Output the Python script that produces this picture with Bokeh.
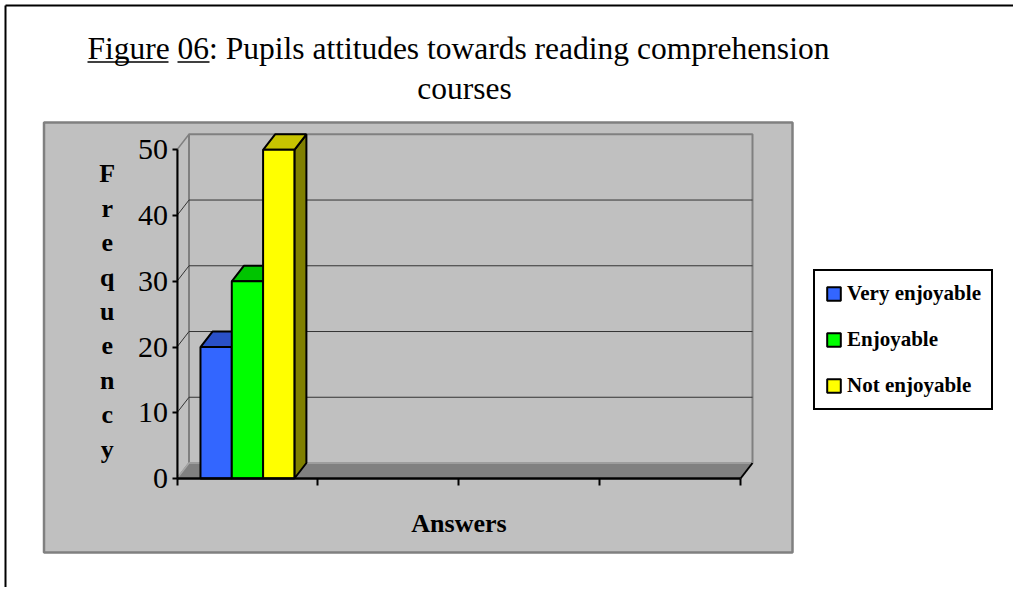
from bokeh.plotting import figure
from bokeh.models import Range1d, LinearAxis, FixedTicker, Legend, LegendItem, Grid
from bokeh.embed import file_html
from bokeh.resources import INLINE
from bokeh.core.properties import value

# ---------------- data ----------------
title_line1 = "Figure 06: Pupils attitudes towards reading comprehension"
title_line2 = "courses"
y_title = "Frequency"
x_title = "Answers"
series_names = ["Very enjoyable", "Enjoyable", "Not enjoyable"]
series_values = [20, 30, 50]
n_category_slots = 4
y_ticks = [0, 10, 20, 30, 40, 50]
y_max = 50

# ---------------- colours ----------------
front_colors = ["#3366FF", "#00FF00", "#FFFF00"]
top_colors = ["#2A50C8", "#00C400", "#C8C400"]
side_colors = ["#1F3D99", "#009900", "#808000"]
PANEL_GRAY = "#C0C0C0"
EDGE_GRAY = "#808080"
FONT = "Liberation Serif"

# ---------------- layout (picture pixels) ----------------
W, H = 1013, 587
ORIGIN_PX = (176.5, 478.0)          # value 0 at the left of the first category slot
PX_PER_CAT = (740.0 - 176.5) / n_category_slots
PX_PER_VAL = (478.0 - 149.3) / y_max
DEPTH_PX = (12.0, 15.5)
GAP_RATIO = 1.5                     # gap width = 150% of a bar
TEXT_SHIFT = 10.0                   # baseline correction for text glyphs


def X(px):
    return (px - ORIGIN_PX[0]) / PX_PER_CAT


def Y(py):
    return (ORIGIN_PX[1] - py) / PX_PER_VAL


def TY(py):
    return Y(py - TEXT_SHIFT)


DX = DEPTH_PX[0] / PX_PER_CAT
DY = DEPTH_PX[1] / PX_PER_VAL

p = figure(width=W, height=H,
           x_range=Range1d(X(0), X(W)),
           y_range=Range1d(Y(H), Y(0)),
           output_backend="svg", toolbar_location=None,
           x_axis_location=None, y_axis_location=None,
           min_border=0, outline_line_color=None,
           background_fill_color="white", border_fill_color="white")
p.center = [r for r in p.center if not isinstance(r, Grid)]

# outer page frame (top and left edges visible)
p.segment(x0=[X(5), X(5)], y0=[Y(5), Y(5)], x1=[X(W + 20), X(5)], y1=[Y(5), Y(H + 20)],
          line_color="black", line_width=2)

# gray chart area
p.quad(left=[X(43.5)], right=[X(792)], top=[Y(122)], bottom=[Y(552)],
       fill_color=PANEL_GRAY, line_color=EDGE_GRAY, line_width=2.5)

x_end = n_category_slots
# left side wall
p.patch(x=[0, 0, DX, DX], y=[0, y_max, y_max + DY, DY],
        fill_color=PANEL_GRAY, line_color=EDGE_GRAY, line_width=1.5)
# back wall
p.quad(left=[DX], right=[x_end + DX], bottom=[DY], top=[y_max + DY],
       fill_color=PANEL_GRAY, line_color=EDGE_GRAY, line_width=2)
# floor
p.patch(x=[0, DX, x_end + DX, x_end], y=[0, DY, DY, 0],
        fill_color=EDGE_GRAY, line_color="#A6A6A6", line_width=1.5)
p.segment(x0=[x_end], y0=[0], x1=[x_end + DX], y1=[DY], line_color="black", line_width=2)

# gridlines (back wall + side wall)
grid_vals = [v for v in y_ticks if 0 < v < y_max]
p.segment(x0=[DX] * len(grid_vals), y0=[v + DY for v in grid_vals],
          x1=[x_end + DX] * len(grid_vals), y1=[v + DY for v in grid_vals],
          line_color="#333333", line_width=1)
p.segment(x0=[0] * len(grid_vals), y0=grid_vals,
          x1=[DX] * len(grid_vals), y1=[v + DY for v in grid_vals],
          line_color="#333333", line_width=1)

# 3-D bars (first category slot)
bar_w = 1.0 / (len(series_values) + GAP_RATIO)
gap = GAP_RATIO * bar_w / 2
front_renderers = []
for i, (val, fc, tc, sc) in enumerate(zip(series_values, front_colors, top_colors, side_colors)):
    l = gap + i * bar_w
    r = l + bar_w
    p.patch(x=[r, r, r + DX, r + DX], y=[0, val, val + DY, DY],
            fill_color=sc, line_color="black", line_width=2)
    p.patch(x=[l, r, r + DX, l + DX], y=[val, val, val + DY, val + DY],
            fill_color=tc, line_color="black", line_width=2)
    fr = p.quad(left=[l], right=[r], bottom=[0], top=[val],
                fill_color=fc, line_color="black", line_width=2)
    front_renderers.append(fr)

# axes
yaxis = LinearAxis(fixed_location=0, bounds=(0, y_max), ticker=FixedTicker(ticks=y_ticks),
                   axis_line_color="black", axis_line_width=2,
                   major_tick_in=0, major_tick_out=5, major_tick_line_width=2,
                   minor_tick_line_color=None,
                   major_label_text_font=FONT, major_label_text_font_size="30px",
                   major_label_text_color="black", major_label_standoff=4)
p.add_layout(yaxis, "left")

xaxis = LinearAxis(fixed_location=0, bounds=(0, x_end),
                   ticker=FixedTicker(ticks=[], minor_ticks=list(range(n_category_slots + 1))),
                   axis_line_color="black", axis_line_width=2.5,
                   major_tick_in=0, major_tick_out=7,
                   minor_tick_in=0, minor_tick_out=7, minor_tick_line_width=2,
                   minor_tick_line_color="black",
                   axis_label=x_title, axis_label_text_font=FONT,
                   axis_label_text_font_style="bold", axis_label_text_font_size="26px",
                   axis_label_text_color="black", axis_label_standoff=23)
p.add_layout(xaxis, "below")

# vertical stacked y title
letters = list(y_title)
p.text(x=[X(106.7)] * len(letters), y=[TY(183.3 + 34.4 * k) for k in range(len(letters))],
       text=letters, text_align="center", text_baseline="alphabetic",
       text_font=value(FONT), text_font_style="bold", text_font_size="26px", text_color="black")

# title
p.text(x=[X(87)], y=[TY(58.3)], text=[title_line1], text_align="left", text_baseline="alphabetic",
       text_font=value(FONT), text_font_size="31.5px", text_color="black")
p.text(x=[X(416.7)], y=[TY(98.3)], text=[title_line2], text_align="left", text_baseline="alphabetic",
       text_font=value(FONT), text_font_size="31.5px", text_color="black")
p.segment(x0=[X(87), X(177)], y0=[Y(61.5)] * 2, x1=[X(168), X(209)], y1=[Y(61.5)] * 2,
          line_color="black", line_width=1.5)

# legend
legend = Legend(items=[LegendItem(label=n, renderers=[r]) for n, r in zip(series_names, front_renderers)],
                location=(813, H - 410), orientation="vertical",
                border_line_color="black", border_line_width=2, border_line_alpha=1.0,
                background_fill_color="white", background_fill_alpha=1.0,
                label_text_font=FONT, label_text_font_style="bold", label_text_font_size="21px",
                label_text_color="black",
                glyph_width=17, glyph_height=17, label_standoff=5, label_height=24,
                spacing=21, padding=10, margin=0)
p.add_layout(legend)

open("out.html", "w").write(file_html(p, INLINE))
